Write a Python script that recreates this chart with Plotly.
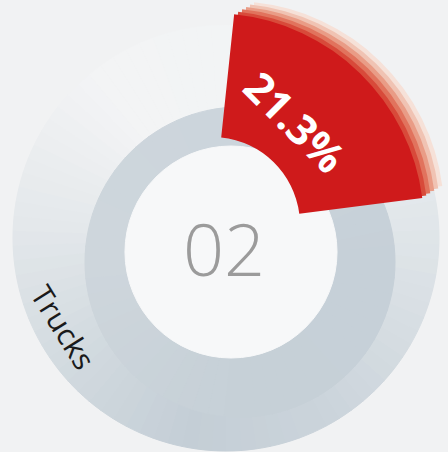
import plotly.graph_objects as go

# data
LABELS = ["Trucks", "Other"]
SHARES = [21.3, 78.7]
INDEX = "02"

W, H = 448, 452
RED = "#cf1a1b"
PAPER = "#f1f2f3"
HOLE = "#f7f8f9"

# light direction for the 3D ring: (angle clockwise from 12 o'clock, colour)
OUTER_LIGHT = [(0, "#f2f4f5"), (60, "#e9edf0"), (100, "#dce2e6"), (150, "#cbd4db"),
               (190, "#c4ced6"), (235, "#d3dbe0"), (275, "#e4e8eb"), (320, "#f3f4f5"),
               (360, "#f2f4f5")]
INNER_LIGHT = [(0, "#ccd5dc"), (90, "#c6d0d8"), (180, "#c6d0d7"), (270, "#ced6dc"),
               (360, "#ccd5dc")]
# extrusion of the red wedge, back to front
EXTRUDE = ["#f6e1d8", "#f0c3b3", "#e99c86", "#e1735d", "#d84a3a"]


def shade_ramp(anchors, n):
    """Smooth list of n colours interpolated around the ring (styling only)."""
    def rgb(h):
        return [int(h[i:i + 2], 16) for i in (1, 3, 5)]
    out = []
    for k in range(n):
        a = (k + 0.5) * 360 / n
        for (a0, c0), (a1, c1) in zip(anchors, anchors[1:]):
            if a0 <= a <= a1:
                t = (a - a0) / (a1 - a0)
                r = [round(p + (q - p) * t) for p, q in zip(rgb(c0), rgb(c1))]
                out.append("rgb({},{},{})".format(*r))
                break
    return out


def disc_domain(cx, cy, r):
    """Pixel circle (top-left origin) -> pie domain in paper fractions."""
    clip = lambda v: min(max(v, 0.0), 1.0)
    return dict(x=[clip((cx - r) / W), clip((cx + r) / W)],
                y=[clip((H - cy - r) / H), clip((H - cy + r) / H)])


def ring(shades, cx, cy, r_out, r_in):
    return go.Pie(
        values=[1] * len(shades),
        marker=dict(colors=shades, line=dict(color=shades, width=1)),
        hole=r_in / r_out,
        domain=disc_domain(cx, cy, r_out),
        sort=False,
        direction="clockwise",
        textinfo="none",
        hoverinfo="skip",
        showlegend=False,
    )


def share_slice(color, cx, cy, r_out, r_in, rotation, hover=False):
    return go.Pie(
        labels=LABELS,
        values=SHARES,
        marker=dict(colors=[color, "rgba(0,0,0,0)"], line=dict(width=0)),
        hole=r_in / r_out,
        domain=disc_domain(cx, cy, r_out),
        sort=False,
        direction="clockwise",
        rotation=rotation,
        textinfo="none",
        hoverinfo="label+percent" if hover else "skip",
        showlegend=False,
    )


fig = go.Figure()
fig.add_trace(ring(shade_ramp(OUTER_LIGHT, 90), 226, 238, 213, 122))
fig.add_trace(ring(shade_ramp(INNER_LIGHT, 60), 240, 262, 155, 0))
fig.add_trace(ring([HOLE], 231, 252, 106, 0))

# red wedge with a faded extrusion behind it
rot = 6
n = len(EXTRUDE)
for i, col in enumerate(EXTRUDE):
    k = n - i
    fig.add_trace(share_slice(col, 212 + 4 * k, 225 - 2.4 * k, 212, 88, rot))
fig.add_trace(share_slice(RED, 212, 225, 212, 88, rot, hover=True))

fig.add_annotation(
    x=296 / W, y=1 - 121 / H, xref="paper", yref="paper",
    xanchor="center", yanchor="middle",
    text=f"{SHARES[0]}%", textangle=45, showarrow=False,
    font=dict(family="Open Sans, sans-serif", size=42, color="white", weight="bold"),
)
fig.add_annotation(
    x=224 / W, y=1 - 248 / H, xref="paper", yref="paper",
    xanchor="center", yanchor="middle",
    text=INDEX, showarrow=False,
    font=dict(family="Open Sans, sans-serif", size=72, color="#9b9b9b", weight=300),
)
fig.add_annotation(
    x=64 / W, y=1 - 327 / H, xref="paper", yref="paper",
    xanchor="center", yanchor="middle",
    text=LABELS[0], textangle=58, showarrow=False,
    font=dict(family="Open Sans, sans-serif", size=30, color="#1a1a1a"),
)

fig.update_layout(
    width=W, height=H,
    margin=dict(l=0, r=0, t=0, b=0),
    paper_bgcolor=PAPER,
    plot_bgcolor=PAPER,
    showlegend=False,
)

fig.write_html("out.html", config={"displayModeBar": False},
               post_script="document.body.style.margin='0';")
